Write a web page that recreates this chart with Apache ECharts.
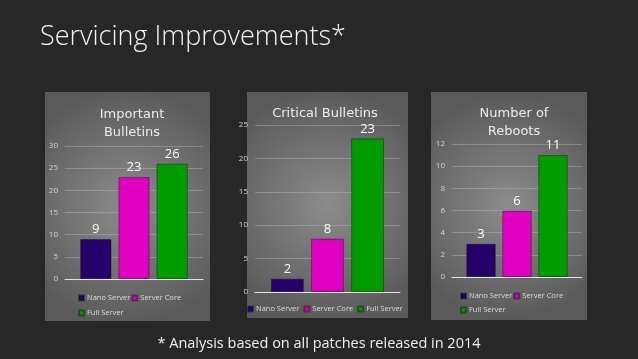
<!DOCTYPE html>
<html>
<head>
<meta charset="utf-8">
<script src="https://cdn.jsdelivr.net/npm/echarts@6/dist/echarts.min.js"></script>
<style>
html,body{margin:0;padding:0;background:#272727;}
#c{width:638px;height:359px;}
</style>
</head>
<body>
<div id="c"></div>
<script>
const seriesNames = ['Nano Server', 'Server Core', 'Full Server'];
const colors = ['#26006a', '#e000c0', '#009c00'];
const chartTitles = ['Important\nBulletins', 'Critical Bulletins', 'Number of\nReboots'];
const importantBulletins = [9, 23, 26];
const criticalBulletins = [2, 8, 23];
const numberOfReboots = [3, 6, 11];
const yMax = [30, 25, 12];
const yInterval = [5, 5, 2];
const mainTitle = 'Servicing Improvements*';
const footnote = '* Analysis based on all patches released in 2014';

const datasets = [importantBulletins, criticalBulletins, numberOfReboots];

const panels = [
  {x: 45, y: 92, w: 165, h: 229},
  {x: 247, y: 92, w: 161, h: 226},
  {x: 431, y: 92, w: 156, h: 228}
];
const grids = [
  {left: 65, top: 146, width: 138, height: 133},
  {left: 255, top: 125, width: 145, height: 167},
  {left: 452, top: 144, width: 130, height: 133}
];
const titlePos = [
  {cx: 127, top: 101},
  {cx: 320, top: 100},
  {cx: 509, top: 100}
];

const chart = echarts.init(document.getElementById('c'), null, {renderer: 'canvas'});

const graphic = panels.map(p => ({
  type: 'rect', z: -10,
  shape: {x: p.x, y: p.y, width: p.w, height: p.h},
  style: {
    fill: new echarts.graphic.RadialGradient(0.5, 0.5, 0.72, [
      {offset: 0, color: '#8c8c8c'},
      {offset: 1, color: '#5a5a5a'}
    ])
  }
}));

const title = [
  {text: mainTitle, left: 35, top: 19,
   textStyle: {color: '#f2f2f2', fontSize: 27, fontWeight: 300, fontFamily: 'Open Sans'}},
  {text: footnote, left: 'center', top: 331,
   textStyle: {color: '#f0f0f0', fontSize: 14.5, fontWeight: 'normal', fontFamily: 'Open Sans'}}
];
chartTitles.forEach((t, i) => {
  title.push({
    text: t, left: titlePos[i].cx, top: titlePos[i].top, textAlign: 'center',
    textStyle: {color: '#ececec', fontSize: 13, fontWeight: 'normal', fontFamily: 'DejaVu Sans', lineHeight: 18}
  });
});

const legendBase = {
  icon: 'rect', itemWidth: 5, itemHeight: 5, itemGap: 1, padding: 0,
  selectedMode: false,
  textStyle: {color: '#dcdcdc', fontSize: 7.5, fontFamily: 'Open Sans', padding: [0, 0, 0, -2]}
};
const legend = [
  Object.assign({}, legendBase, {data: [seriesNames[0], seriesNames[1]], left: 78, top: 294}),
  Object.assign({}, legendBase, {data: [seriesNames[2]], left: 78, top: 309}),
  Object.assign({}, legendBase, {data: seriesNames, left: 247, top: 305, itemGap: 4}),
  Object.assign({}, legendBase, {data: [seriesNames[0], seriesNames[1]], left: 460, top: 292}),
  Object.assign({}, legendBase, {data: [seriesNames[2]], left: 460, top: 306})
];

const xAxis = [], yAxis = [], series = [];
grids.forEach((g, i) => {
  xAxis.push({
    type: 'category', gridIndex: i, data: [''],
    axisLine: {lineStyle: {color: '#e4e4e4', width: 1}},
    axisTick: {show: false}, axisLabel: {show: false}
  });
  yAxis.push({
    type: 'value', gridIndex: i, min: 0, max: yMax[i], interval: yInterval[i],
    axisLine: {show: false}, axisTick: {show: false},
    axisLabel: {color: '#d4d4d4', fontSize: 8, fontFamily: 'Open Sans', margin: 7},
    splitLine: {lineStyle: {color: 'rgba(200,200,200,0.35)', width: 1}}
  });
  seriesNames.forEach((name, k) => {
    series.push({
      type: 'bar', name: name, xAxisIndex: i, yAxisIndex: i,
      data: [datasets[i][k]],
      barGap: '22%', barCategoryGap: '22%',
      itemStyle: {color: colors[k], borderColor: 'rgba(0,0,0,0.35)', borderWidth: 1},
      label: {show: true, position: 'top', distance: 3, color: '#ffffff', fontSize: 13, fontFamily: 'Open Sans'}
    });
  });
});

chart.setOption({
  animation: false,
  backgroundColor: '#272727',
  graphic: graphic,
  title: title,
  legend: legend,
  grid: grids,
  xAxis: xAxis,
  yAxis: yAxis,
  series: series
});
</script>
</body>
</html>
